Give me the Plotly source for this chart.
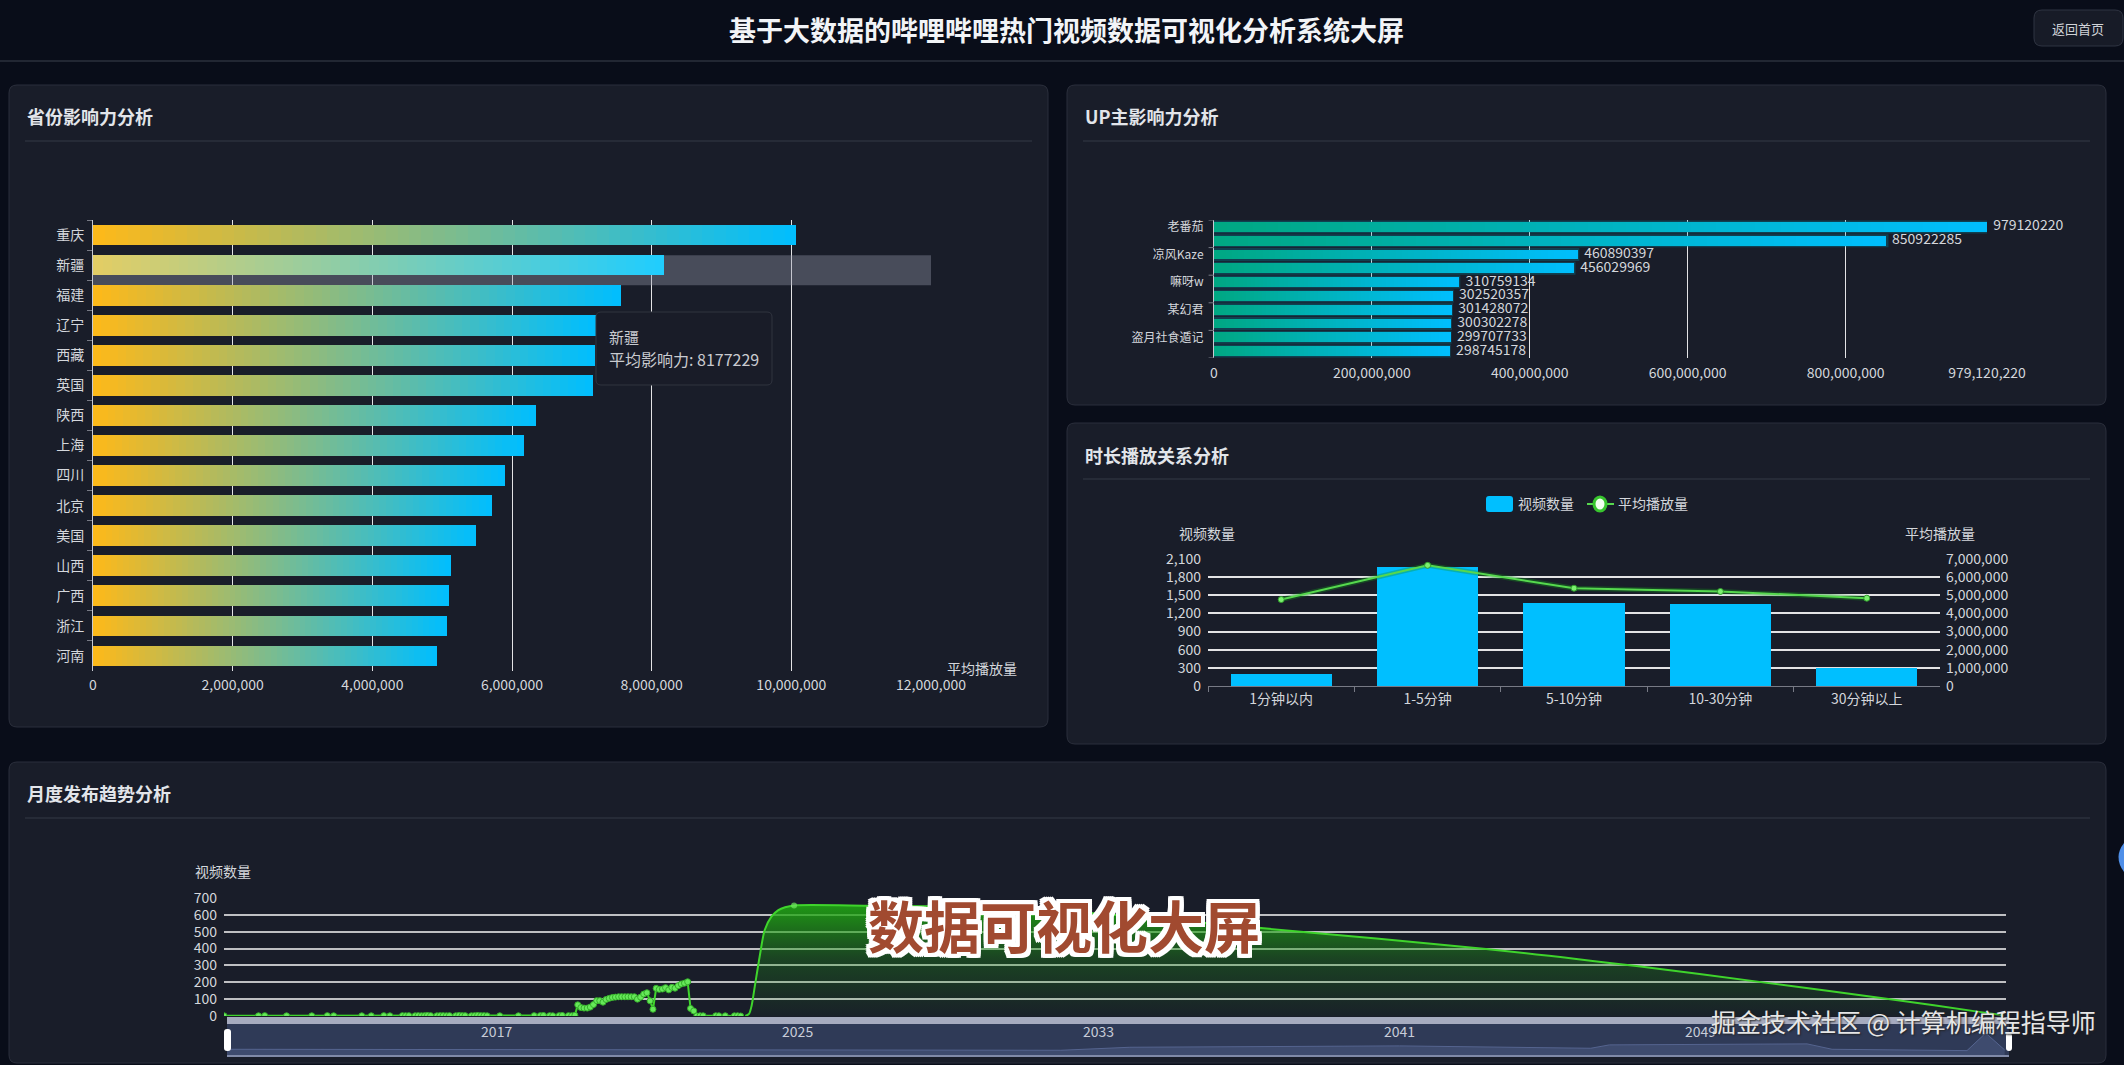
# plot.py - bilibili hot video dashboard, 4 panels on one dark page
import plotly.graph_objects as go

W, H = 2124, 1065
FONT = "Noto Sans CJK SC"

# ── Data ──────────────────────────────────────────────────────────────────────
provinces = ["重庆", "新疆", "福建", "辽宁", "西藏", "英国", "陕西", "上海",
             "四川", "北京", "美国", "山西", "广西", "浙江", "河南"]
province_values = [10070000, 8177229, 7555000, 7205000, 7190000, 7158000, 6343000, 6170000,
                   5897000, 5720000, 5490000, 5120000, 5100000, 5070000, 4930000]
province_ticks = [0, 2000000, 4000000, 6000000, 8000000, 10000000, 12000000]

up_names = ["老番茄", "未显示2", "凉风Kaze", "未显示4", "嘛呀w",
            "未显示6", "某幻君", "未显示8", "盗月社食遁记", "未显示10"]
up_values = [979120220, 850922285, 460890397, 456029969, 310759134,
             302520357, 301428072, 300302278, 299707733, 298745178]
up_shown = ["老番茄", "凉风Kaze", "嘛呀w", "某幻君", "盗月社食遁记"]
up_ticks = [0, 200000000, 400000000, 600000000, 800000000, 979120220]

duration_bins = ["1分钟以内", "1-5分钟", "5-10分钟", "10-30分钟", "30分钟以上"]
duration_counts = [194, 1972, 1374, 1352, 305]
duration_plays = [4765000, 6650000, 5390000, 5210000, 4840000]

# monthly publish counts, the early part with markers
early_months = ["2009-10", "2010-09", "2010-11", "2011-06", "2012-02", "2012-07", "2012-09",
                "2013-06", "2013-09", "2014-01", "2014-03", "2014-07", "2014-08", "2014-09",
                "2014-11", "2014-12", "2015-01", "2015-02", "2015-03", "2015-04", "2015-06",
                "2015-07", "2015-08", "2015-09", "2015-10", "2015-12", "2016-01", "2016-02",
                "2016-03", "2016-05", "2016-06", "2016-07", "2016-08", "2016-09", "2016-10",
                "2017-02", "2017-08", "2018-01", "2018-03", "2018-04", "2018-06", "2018-07",
                "2018-09", "2018-10", "2018-12", "2019-01", "2019-02",
                "2019-03", "2019-04", "2019-05", "2019-06", "2019-07", "2019-08", "2019-09",
                "2019-10", "2019-11", "2019-12", "2020-01", "2020-02", "2020-03", "2020-04",
                "2020-05", "2020-06", "2020-07", "2020-08", "2020-09", "2020-10", "2020-11",
                "2020-12", "2021-01", "2021-02", "2021-03", "2021-04", "2021-05", "2021-06",
                "2021-07", "2021-08", "2021-09", "2021-10", "2021-11", "2021-12", "2022-01",
                "2022-02", "2022-03", "2022-04", "2022-05", "2022-06", "2022-07", "2022-11",
                "2022-12", "2023-02", "2023-05", "2023-06", "2023-07", "2023-08"]
early_counts = [1, 1, 2, 1, 1, 2, 1, 1, 1, 2, 1, 2, 1, 2, 1, 2, 1, 2, 3, 2, 1, 2, 2, 1, 2, 1, 3, 2,
                2, 1, 2, 3, 2, 2, 1, 1, 1, 2, 2, 3, 2, 1, 2, 3, 2, 1, 4,
                66, 50, 47, 47, 53, 68, 91, 91, 82, 98, 105, 110, 112, 114, 114, 114, 114, 114, 114,
                100, 112, 130, 138, 90, 40, 164, 158, 160, 168, 155, 170, 165, 180, 190, 195, 203,
                45, 30, 0, 1, 1, 1, 1, 1, 1, 1, 0]
late_dates = ["2023-08-15", "2023-09-20", "2023-10-15", "2023-11-15", "2024-01-01", "2024-02-20",
              "2024-04-25", "2024-07-01", "2024-09-05", "2024-12-01", "2027-01-01", "2030-01-01",
              "2032-01-01", "2034-01-01", "2037-06-01", "2043-05-01", "2047-05-01", "2050-10-01",
              "2054-05-01", "2056-07-01", "2057-02-01"]
late_counts = [0, 12, 60, 174, 350, 510, 589, 628, 645, 656, 654, 645, 625, 590, 520, 398, 296, 198, 92, 23, 5]
count_ticks = [0, 100, 200, 300, 400, 500, 600, 700]

# outline of the data shadow in the range strip
strip_years = ["2009-11", "2032-01", "2033-11", "2041-01", "2046-02", "2046-08",
               "2051-11", "2052-07", "2056-02", "2056-08", "2057-02"]
strip_shadow = [17, 14, 23, 27, 20, 30, 33, 17, 13, 65, 15]


def px_x(x):
    return x / W


def px_y(y):
    return 1 - y / H


def blend(c0, c1, t):
    return "rgb(%d,%d,%d)" % tuple(c0[i] + (c1[i] - c0[i]) * t for i in range(3))


def rounded(x0, y0, x1, y1, r):
    # rounded rectangle as a path in paper coords
    a, b, c, d = px_x(x0), px_x(x0 + r), px_x(x1 - r), px_x(x1)
    e, f, g, h = px_y(y0), px_y(y0 + r), px_y(y1 - r), px_y(y1)
    return (f"M{b},{e} L{c},{e} Q{d},{e} {d},{f} L{d},{g} Q{d},{h} {c},{h} "
            f"L{b},{h} Q{a},{h} {a},{g} L{a},{f} Q{a},{e} {b},{e} Z")


shapes = []
notes = []


def box(x0, y0, x1, y1, r=0, fill="rgba(0,0,0,0)", line=None, layer="below", lw=1):
    shapes.append(dict(type="path", xref="paper", yref="paper", path=rounded(x0, y0, x1, y1, r),
                       fillcolor=fill, line=dict(color=line or fill, width=lw if line else 0), layer=layer))


def rule(x0, x1, y, color="#2b303d", width=1.5, layer="below"):
    shapes.append(dict(type="line", xref="paper", yref="paper", x0=px_x(x0), x1=px_x(x1),
                       y0=px_y(y), y1=px_y(y), line=dict(color=color, width=width), layer=layer))


def label(text, x, y, size=14, color="#d4d7dc", anchor="center", **font_extra):
    notes.append(dict(text=text, x=px_x(x), y=px_y(y), xref="paper", yref="paper", showarrow=False,
                      xanchor=anchor, yanchor="middle",
                      font=dict(family=FONT, size=size, color=color, **font_extra)))


fig = go.Figure()

# ── Panel 1: provinces, gradient built from thin stacked pieces ───────────────
SEGS = 60
for k in range(SEGS):
    t = (k + 0.5) / SEGS
    colors = [blend((228, 205, 100), (32, 205, 255), t) if p == "新疆"
              else blend((255, 185, 25), (0, 191, 255), t) for p in provinces]
    fig.add_trace(go.Bar(y=provinces, x=[v / SEGS for v in province_values], orientation="h",
                         marker=dict(color=colors, line=dict(width=0)), width=0.69,
                         xaxis="x", yaxis="y", showlegend=False, hoverinfo="skip"))

# hover band behind the 新疆 row, sits a bit low in the reference
shapes.append(dict(type="rect", xref="x", yref="y", x0=0, x1=12000000, y0=0.67, y1=1.67,
                   fillcolor="rgba(150,152,170,0.38)", line=dict(width=0), layer="between"))

# ── Panel 2: UP hosts ─────────────────────────────────────────────────────────
for k in range(SEGS):
    t = (k + 0.5) / SEGS
    fig.add_trace(go.Bar(y=up_names, x=[v / SEGS for v in up_values], orientation="h",
                         marker=dict(color=blend((0, 168, 130), (0, 191, 255), t), line=dict(width=0)),
                         width=0.70, xaxis="x2", yaxis="y2", showlegend=False, hoverinfo="skip"))
fig.add_trace(go.Scatter(y=up_names, x=up_values, mode="text", text=["  " + str(v) for v in up_values],
                         textposition="middle right", cliponaxis=False,
                         textfont=dict(family=FONT, size=14, color="#d4d7dc"),
                         xaxis="x2", yaxis="y2", showlegend=False, hoverinfo="skip"))

# bar glow and the every-second-row ticks
for i, v in enumerate(up_values):
    shapes.append(dict(type="rect", xref="x2", yref="y2", x0=0, x1=v * 1.004, y0=i - 0.47, y1=i + 0.47,
                       fillcolor="rgba(0,140,165,0.32)", line=dict(width=0), layer="between"))
for i in range(0, 11, 2):
    shapes.append(dict(type="line", xref="x2 domain", yref="y2", x0=-0.007, x1=0, y0=i - 0.5, y1=i - 0.5,
                       line=dict(color="#777a85", width=1), layer="above"))

# ── Panel 3: duration vs plays ────────────────────────────────────────────────
fig.add_trace(go.Bar(x=duration_bins, y=duration_counts, marker=dict(color="#00bfff", line=dict(width=0)),
                     width=0.69, xaxis="x3", yaxis="y3", showlegend=False, hoverinfo="skip"))
fig.add_trace(go.Scatter(x=duration_bins, y=duration_plays, mode="lines",
                         line=dict(color="rgba(20,150,30,0.35)", width=5),
                         xaxis="x3", yaxis="y4", showlegend=False, hoverinfo="skip"))
fig.add_trace(go.Scatter(x=duration_bins, y=duration_plays, mode="lines+markers",
                         line=dict(color="#56d84e", width=2),
                         marker=dict(color="#7cf070", size=6, line=dict(color="#2f9e2a", width=1)),
                         xaxis="x3", yaxis="y4", showlegend=False, hoverinfo="skip"))

# ── Panel 4: monthly trend ────────────────────────────────────────────────────
fig.add_trace(go.Scatter(x=late_dates, y=late_counts, mode="lines+markers",
                         line=dict(color="#3fd42c", width=2, shape="spline", smoothing=0.8),
                         marker=dict(color="#6fe85f", size=[6 if d == "2024-12-01" else 0 for d in late_dates],
                                     line=dict(width=0)),
                         fill="tozeroy",
                         fillgradient=dict(type="vertical", start=0, stop=680,
                                           colorscale=[[0, "rgba(30,150,20,0.03)"], [0.5, "rgba(30,150,20,0.32)"],
                                                       [1, "rgba(32,170,18,0.92)"]]),
                         xaxis="x4", yaxis="y5", showlegend=False, hoverinfo="skip"))
fig.add_trace(go.Scatter(x=early_months, y=early_counts, mode="lines+markers",
                         line=dict(color="#3fd42c", width=2),
                         marker=dict(color="#66e85a", size=6, line=dict(color="#35b02a", width=1)),
                         xaxis="x4", yaxis="y5", showlegend=False, hoverinfo="skip"))

# range strip under the trend
fig.add_trace(go.Scatter(x=strip_years, y=strip_shadow, mode="lines", fill="tozeroy",
                         line=dict(color="#55648f", width=1), fillcolor="#3e4b6e",
                         xaxis="x5", yaxis="y6", showlegend=False, hoverinfo="skip"))

# ── Page chrome ───────────────────────────────────────────────────────────────
rule(0, W, 61)
label("<b>基于大数据的哔哩哔哩热门视频数据可视化分析系统大屏</b>", 1066, 30, size=27, color="#f2f4f7")
box(2034, 10, 2123, 46, r=8, fill="#171b27", line="#2f3442")
label("返回首页", 2078, 28, size=13, color="#d0d3d8")

for x0, y0, x1, y1, title, tx, ty, ry in [
    (9, 85, 1048, 727, "省份影响力分析", 25, 116, 141),
    (1067, 85, 2106, 405, "UP主影响力分析", 1083, 116, 141),
    (1067, 423, 2106, 744, "时长播放关系分析", 1083, 455, 479),
    (9, 762, 2106, 1063, "月度发布趋势分析", 25, 793, 818),
]:
    box(x0, y0, x1, y1, r=8, fill="#191d29", line="#2b2f3c")
    label(f"<b>{title}</b>", tx, ty, size=18, color="#e2e5ea", anchor="left")
    rule(tx, x1 - 16, ry)

# tooltip
box(596, 312, 772, 385, r=5, fill="#191c28", line="#30343f", layer="above")
label("新疆", 607, 336, size=15, color="#c9cbd0", anchor="left")
label("平均影响力: 8177229", 607, 359, size=16, color="#c9cbd0", anchor="left")
label("平均播放量", 982, 668)

# legend of panel 3
box(1486, 496, 1513, 512, r=3, fill="#00bfff", layer="above")
label("视频数量", 1546, 503)
rule(1587, 1614, 504, color="#56d84e", width=2, layer="above")
shapes.append(dict(type="circle", xref="paper", yref="paper", x0=px_x(1594), x1=px_x(1606),
                   y0=px_y(497), y1=px_y(511), fillcolor="#f2fff0",
                   line=dict(color="#38c52e", width=3), layer="above"))
label("平均播放量", 1653, 503)
label("视频数量", 1207, 533)
label("平均播放量", 1940, 533)
label("视频数量", 223, 871)

# range strip frame and handles
box(227, 1017, 2009, 1057, fill="#2f3a57")
box(227, 1017, 2009, 1024, fill="#a6abbf", layer="above")
box(227, 1055, 2009, 1057, fill="#808aa8", layer="above")
box(224, 1029, 231, 1051, r=3, fill="#ffffff", layer="above")
box(2006, 1033, 2012, 1051, r=3, fill="#ffffff", layer="above")

# blue float button cut by the right edge
shapes.append(dict(type="path", xref="paper", yref="paper",
                   path=f"M{px_x(2124)},{px_y(843)} Q{px_x(2113)},{px_y(857)} {px_x(2124)},{px_y(872)} Z",
                   fillcolor="#4f8fe8", line=dict(width=0), layer="above"))

# video captions burnt into the frame
white_edge = ",".join(f"{a}px {b}px 0 #fff" for a in (-4, -2, 0, 2, 4) for b in (-4, -2, 0, 2, 4))
label("<b>数据可视化大屏</b>", 1064, 923, size=56, color="#a14a30", shadow=white_edge)
label("掘金技术社区 @ 计算机编程指导师", 2098, 1021, size=25, color="#e6e6e6", anchor="right",
      shadow="1px 1px 2px #222")


# ── Axes ──────────────────────────────────────────────────────────────────────
def dom_x(a, b):
    return [px_x(a), px_x(b)]


def dom_y(top, bottom):
    return [px_y(bottom), px_y(top)]


tick_font = dict(family=FONT, size=14, color="#d4d7dc")
small_font = dict(family=FONT, size=12, color="#d4d7dc")
grid = "rgba(255,255,255,0.88)"

fig.update_layout(
    width=W, height=H, margin=dict(l=0, r=0, t=0, b=0), autosize=False,
    paper_bgcolor="#090d19", plot_bgcolor="rgba(0,0,0,0)",
    barmode="stack", showlegend=False, shapes=shapes, annotations=notes,
    xaxis=dict(domain=dom_x(93, 931), anchor="y", range=[0, 12000000], tickvals=province_ticks,
               tickformat=",", tickfont=tick_font, showgrid=True, gridcolor=grid, gridwidth=1,
               zeroline=False, showline=False, ticks="", ticklabelstandoff=4),
    yaxis=dict(domain=dom_y(220, 671), anchor="x", range=[14.5, -0.5], type="category", tickfont=tick_font,
               showgrid=False, zeroline=False, showline=True, linecolor="#c8cad0", linewidth=1,
               ticks="outside", ticklen=5, tickcolor="#777a85", tickson="boundaries", ticklabelstandoff=5),
    xaxis2=dict(domain=dom_x(1214, 1987), anchor="y2", range=[0, 979120220], tickvals=up_ticks,
                tickformat=",", tickfont=tick_font, showgrid=True, gridcolor=grid,
                zeroline=False, showline=False, ticks="", ticklabelstandoff=5),
    yaxis2=dict(domain=dom_y(220, 358), anchor="x2", range=[9.5, -0.5], type="category",
                categoryorder="array", categoryarray=up_names, tickmode="array",
                tickvals=up_shown, ticktext=up_shown, tickfont=small_font,
                showgrid=False, zeroline=False, showline=True, linecolor="#c8cad0",
                ticks="", ticklabelstandoff=7),
    xaxis3=dict(domain=dom_x(1208, 1940), anchor="y3", type="category", tickfont=tick_font,
                showgrid=False, zeroline=False, showline=True, linecolor="#777a85",
                ticks="outside", ticklen=5, tickcolor="#777a85", tickson="boundaries"),
    yaxis3=dict(domain=dom_y(559, 686), anchor="x3", range=[0, 2100], dtick=300, tickformat=",",
                tickfont=tick_font, showgrid=True, gridcolor=grid, gridwidth=1.5, zeroline=False,
                showline=False, ticks="", ticklabelstandoff=6),
    yaxis4=dict(domain=dom_y(559, 686), anchor="x3", overlaying="y3", side="right", range=[0, 7000000],
                dtick=1000000, tickformat=",", tickfont=tick_font, showgrid=False, zeroline=False,
                showline=False, ticks="", ticklabelstandoff=5),
    xaxis4=dict(domain=dom_x(224, 2006), anchor="y5", type="date", range=["2009-10-01", "2057-03-01"],
                showticklabels=False, showgrid=False, zeroline=False, showline=False, ticks=""),
    yaxis5=dict(domain=dom_y(898, 1016), anchor="x4", range=[0, 700], tickvals=count_ticks, tickfont=tick_font,
                showgrid=True, gridcolor="rgba(255,255,255,0.72)", gridwidth=1.5, zeroline=False,
                showline=False, ticks="", ticklabelstandoff=6),
    xaxis5=dict(domain=dom_x(227, 2009), anchor="y6", type="date", range=["2009-11-01", "2057-03-15"],
                side="top", ticklabelposition="inside", tick0="2017-01-01", dtick="M96", tickformat="%Y",
                tickfont=dict(family=FONT, size=14, color="#c8ccd8"), showgrid=False, zeroline=False,
                showline=False, ticks=""),
    yaxis6=dict(domain=dom_y(1024, 1055), anchor="x5", range=[0, 92], visible=False),
)
# the default template pushes margins for tick labels, that would rescale every paper coord
fig.update_xaxes(automargin=False)
fig.update_yaxes(automargin=False)

# body margin would push the fixed-size figure off the window
fig.write_html("out.html", config={"displayModeBar": False},
               post_script="document.body.style.margin='0';document.body.style.overflow='hidden';")
